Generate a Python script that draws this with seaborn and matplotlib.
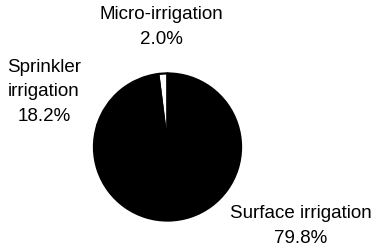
import matplotlib
matplotlib.use("Agg")
import matplotlib.pyplot as plt
import seaborn as sns

categories = ["Micro-irrigation", "Sprinkler\nirrigation", "Surface irrigation"]
shares = [2.0, 18.2, 79.8]
slice_colors = ["white", "black", "black"]

sns.set_theme(style="white")
plt.rcParams["font.family"] = ["Liberation Sans", "DejaVu Sans"]

W, H = 386, 250
fig = plt.figure(figsize=(W / 100, H / 100), dpi=100)
fig.patch.set_facecolor("white")

cx, cy, r = 167.5, 147, 75
ax = fig.add_axes([(cx - r) / W, 1 - (cy + r) / H, 2 * r / W, 2 * r / H])
ax.pie(shares, colors=slice_colors, startangle=90, counterclock=True,
       wedgeprops=dict(edgecolor="black", linewidth=1.6))
ax.set_xlim(-1.02, 1.02)
ax.set_ylim(-1.02, 1.02)
ax.set_aspect("equal")
ax.axis("off")

fs = 13.5
def put(x, y, s):
    fig.text(x / W, 1 - y / H, s, ha="center", va="center", fontsize=fs,
             color="black", linespacing=1.55)

put(161, 27, f"{categories[0]}\n{shares[0]:.1f}%")
put(44, 92, f"{categories[1]}\n{shares[1]:.1f}%")
put(301, 226, f"{categories[2]}\n{shares[2]:.1f}%")

fig.savefig("out.png", dpi=100, facecolor="white")
